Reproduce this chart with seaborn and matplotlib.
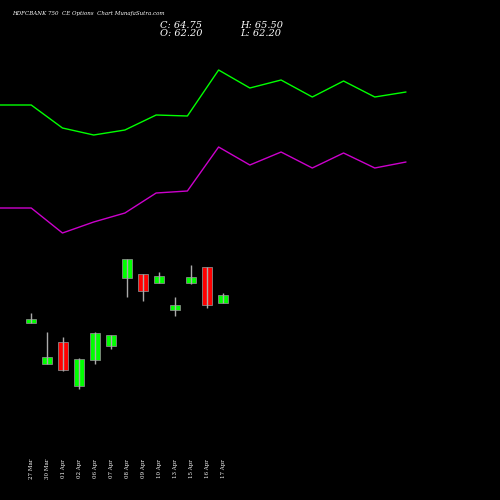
import numpy as np
import pandas as pd
import seaborn as sns
import matplotlib
matplotlib.use('Agg')
import matplotlib.pyplot as plt

dates = ['27 Mar', '30 Mar', '01 Apr', '02 Apr', '06 Apr', '07 Apr', '08 Apr',
         '09 Apr', '10 Apr', '13 Apr', '15 Apr', '16 Apr', '17 Apr']
opens = [55.7, 42.7, 49.6, 35.6, 43.9, 48.4, 70.2, 71.4, 68.7, 60.0, 68.7, 73.8, 62.2]
closes = [57.0, 44.9, 40.7, 44.2, 52.5, 52.0, 76.3, 66.1, 70.7, 61.7, 70.4, 61.5, 64.75]
highs = [58.9, 52.9, 51.3, 44.6, 52.9, 52.0, 76.3, 71.4, 72.0, 64.0, 74.5, 73.8, 65.5]
lows = [55.7, 42.7, 40.3, 34.6, 42.6, 47.4, 64.1, 62.9, 68.7, 58.0, 68.3, 60.5, 62.2]
line_green = [395, 395, 372, 365, 370, 385, 384, 430, 412, 420, 403, 419, 403, 408]
line_magenta = [292, 292, 267, 278, 287, 307, 309, 353, 335, 348, 332, 347, 332, 338]

sns.set_style('dark')
plt.rcParams['font.family'] = ['DejaVu Serif']
fig = plt.figure(figsize=(5, 5), dpi=100, facecolor='black')

# indicator lines (own scale)
lax = fig.add_axes([0, 0, 1, 1])
lax.set_facecolor('black')
lx = np.arange(len(line_green))
sns.lineplot(x=lx, y=line_green, color='#00ff00', lw=1, ax=lax)
sns.lineplot(x=lx, y=line_magenta, color='#cc00cc', lw=1, ax=lax)
lax.set_xlim(0, 16.01)
lax.set_ylim(0, 500)
lax.axis('off')

# candles
ax = fig.add_axes([0, 0, 1, 1])
ax.patch.set_alpha(0)
for i in range(len(dates)):
    o, c, h, l = opens[i], closes[i], highs[i], lows[i]
    col = '#00ff00' if c >= o else '#ff0000'
    ax.vlines(i, l, h, color='#aaaaaa', lw=1)
    ax.bar(i, abs(c - o), bottom=min(o, c), width=0.6, color=col,
           edgecolor='#888888', lw=0.6)
    ax.text(i, 0.062, dates[i], rotation=90, color='white', fontsize=4,
            ha='center', va='center', transform=ax.get_xaxis_transform())
ax.set_xlim(-1.9375, 29.31)
ax.set_ylim(-0.84, 159.16)
ax.axis('off')

fig.text(0.024, 0.972, 'HDFCBANK 750  CE Options  Chart MunafaSutra.com',
         color='white', fontsize=4, style='italic', va='center')
fig.text(0.32, 0.95, 'C: 64.75', color='white', fontsize=7, style='italic', va='center')
fig.text(0.32, 0.934, 'O: 62.20', color='white', fontsize=7, style='italic', va='center')
fig.text(0.48, 0.95, 'H: 65.50', color='white', fontsize=7, style='italic', va='center')
fig.text(0.48, 0.934, 'L: 62.20', color='white', fontsize=7, style='italic', va='center')

fig.savefig('out.png', dpi=100, facecolor='black')
